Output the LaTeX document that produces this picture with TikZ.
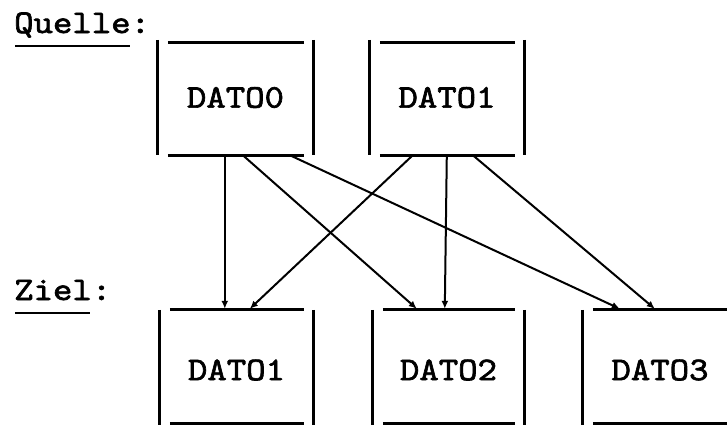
\documentclass[tikz,border=0pt]{standalone}
\usepackage{fontspec}
\setmonofont{lmmono10-regular.otf}[FakeStretch=1.12,FakeBold=2]
\usetikzlibrary{arrows.meta}

\tikzset{
  tw/.style={font=\ttfamily\fontsize{33}{33}\selectfont, text=black},
  datbox/.style={tw, inner sep=0pt, minimum width=#1},
  topbox/.style={datbox=#1, minimum height=115pt},
  lowbox/.style={datbox=#1, minimum height=120pt},
  boxline/.style={line width=2.8pt},
  uline/.style={line width=2.4pt},
  conn/.style={line width=2pt, -{Latex[length=8pt,width=7pt]}},
  lbl/.style={tw, inner sep=0pt, anchor=base west}
}

% four separate strokes, typewriter style: sides full height, top and bottom inset
\newcommand{\tbox}[3]{%
  \draw[boxline] (#1.north west) -- (#1.south west);
  \draw[boxline] (#1.north east) -- (#1.south east);
  \draw[boxline] ([shift={(10pt,#2)}]#1.north west) -- ([shift={(-9pt,#2)}]#1.north east);
  \draw[boxline] ([shift={(10pt,#3)}]#1.south west) -- ([shift={(-9pt,#3)}]#1.south east);
}

\begin{document}
\begin{tikzpicture}[x=1pt,y=-1pt]
\fill[white] (0,0) rectangle (727,424);
\useasboundingbox (0,0) rectangle (727,424);

% labels
\node[lbl] (ql) at (14,33) {Quelle:};
\draw[uline] ([shift={(1pt,-13pt)}]ql.base west) -- ([shift={(116pt,-13pt)}]ql.base west);
\node[lbl] (zl) at (14,300) {Ziel:};
\draw[uline] ([shift={(1pt,-13pt)}]zl.base west) -- ([shift={(76pt,-13pt)}]zl.base west);

% source boxes
\node[topbox=155pt] (q0) at (235.5,97.5) {DATO0};
\node[topbox=154pt] (q1) at (447,97.5) {DATO1};
\tbox{q0}{-3pt}{0pt}
\tbox{q1}{-3pt}{0pt}

% target boxes
\node[lowbox=153pt] (z1) at (236.5,370) {DATO1};
\node[lowbox=151pt] (z2) at (448.5,370) {DATO2};
\node[lowbox=154pt] (z3) at (660,370) {DATO3};
\tbox{z1}{0pt}{7pt}
\tbox{z2}{0pt}{7pt}
\tbox{z3}{0pt}{7pt}

% copy connections
\draw[conn] ([xshift=67pt]q0.south west) -- ([xshift=65pt,yshift=1pt]z1.north west);
\draw[conn] ([xshift=85pt]q0.south west) -- ([xshift=44pt,yshift=1pt]z2.north west);
\draw[conn] ([xshift=132pt]q0.south west) -- ([xshift=37pt,yshift=1pt]z3.north west);
\draw[conn] ([xshift=43pt]q1.south west) -- ([xshift=90pt,yshift=1pt]z1.north west);
\draw[conn] ([xshift=77pt]q1.south west) -- ([xshift=72pt,yshift=1pt]z2.north west);
\draw[conn] ([xshift=103pt]q1.south west) -- ([xshift=72pt,yshift=1pt]z3.north west);
\end{tikzpicture}
\end{document}
